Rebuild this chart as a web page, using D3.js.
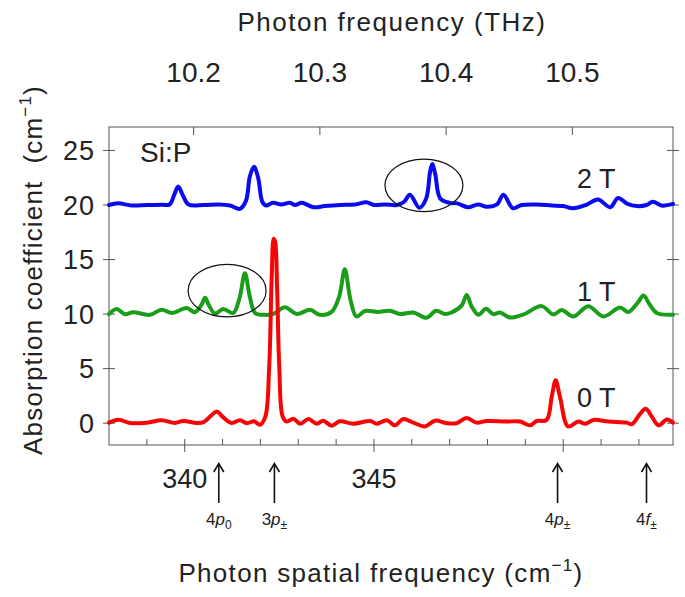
<!DOCTYPE html>
<html><head><meta charset="utf-8">
<script src="https://cdnjs.cloudflare.com/ajax/libs/d3/7.8.5/d3.min.js"></script>
<style>body{margin:0;background:#fff}svg{display:block}text{font-family:"Liberation Sans",Arial,Helvetica,sans-serif;fill:#222}</style>
</head><body><svg id="c" width="685" height="597"></svg>
<script>
// Data (wavenumber cm^-1, absorption coefficient cm^-1)
const blue2T = [[338,20.0],[338.24,20.15],[338.6,19.95],[339.0,20.0],[339.4,20.02],[339.6,20.05],[339.72,20.9],[339.83,21.7],[339.95,20.9],[340.1,20.05],[340.5,20.0],[340.9,20.05],[341.2,19.95],[341.46,19.65],[341.62,20.4],[341.72,22.6],[341.83,23.5],[341.94,22.5],[342.05,20.3],[342.15,19.95],[342.33,20.2],[342.55,20.05],[342.78,20.2],[342.92,20.0],[343.09,20.2],[343.4,19.8],[343.7,19.9],[344.1,20.0],[344.5,20.05],[344.8,20.25],[345.0,20.0],[345.3,20.05],[345.6,20.0],[345.8,20.3],[345.95,20.95],[346.2,19.75],[346.38,20.6],[346.48,23.0],[346.54,23.75],[346.62,22.8],[346.75,20.6],[347.0,20.2],[347.2,20.15],[347.48,19.8],[347.75,20.05],[347.98,19.85],[348.25,20.05],[348.42,20.95],[348.67,19.7],[348.9,20.0],[349.3,20.05],[349.7,19.95],[350.0,19.9],[350.25,19.7],[350.6,20.0],[350.92,20.5],[351.24,19.8],[351.45,20.65],[351.7,20.1],[351.94,19.9],[352.2,20.0],[352.37,20.3],[352.6,19.95],[352.9,20.1]];
const green1T = [[338,10.0],[338.2,10.47],[338.42,9.99],[338.64,10.17],[339.08,9.93],[339.39,10.4],[339.66,10.1],[340.05,10.56],[340.27,10.17],[340.45,10.9],[340.54,11.5],[340.64,10.8],[340.8,10.05],[341.02,10.47],[341.28,10.1],[341.45,11.5],[341.59,13.75],[341.72,11.6],[341.86,10.1],[342.12,9.93],[342.34,10.02],[342.65,10.63],[342.96,10.0],[343.31,10.4],[343.57,9.93],[343.88,10.2],[344.08,11.6],[344.23,14.1],[344.38,11.3],[344.54,9.78],[344.76,10.28],[345.1,10.2],[345.42,10.3],[345.69,10.0],[346.04,10.15],[346.39,9.66],[346.64,10.3],[346.88,10.0],[347.05,10.15],[347.32,10.8],[347.45,11.75],[347.58,10.7],[347.76,9.93],[347.96,10.5],[348.15,10.0],[348.33,10.15],[348.59,9.69],[348.95,9.97],[349.43,10.73],[349.74,9.97],[349.96,10.37],[350.27,9.78],[350.66,10.73],[351.06,9.78],[351.5,10.6],[351.72,10.2],[351.98,11.1],[352.12,11.7],[352.28,10.9],[352.47,10.1],[352.9,9.95]];
const red0T = [[338,0.05],[338.25,0.32],[338.55,0.02],[339.0,0.05],[339.39,0.27],[339.74,0.02],[339.96,0.2],[340.32,0.02],[340.5,0.1],[340.7,0.7],[340.85,1.08],[341.0,0.6],[341.24,0.02],[341.46,0.27],[341.64,0.0],[341.83,0.17],[341.99,-0.14],[342.13,0.6],[342.23,5],[342.3,13.5],[342.35,16.9],[342.39,16.6],[342.44,12.5],[342.5,5],[342.59,0.6],[342.7,0.15],[342.87,0.41],[343.05,-0.05],[343.27,0.38],[343.49,-0.05],[343.66,0.23],[343.88,-0.23],[344.1,0.17],[344.45,-0.05],[344.9,0.2],[345.07,-0.05],[345.34,0.27],[345.56,-0.2],[345.77,0.38],[346.04,0.05],[346.35,-0.3],[346.61,0.23],[346.92,0.0],[347.18,0.0],[347.45,0.48],[347.71,0.05],[347.98,0.2],[348.5,0.15],[348.86,0.15],[349.12,-0.2],[349.3,0.2],[349.56,0.3],[349.7,2.5],[349.8,3.93],[349.92,2.3],[350.13,-0.3],[350.4,0.15],[350.58,-0.05],[350.8,0.3],[351.2,0.15],[351.68,0.05],[351.81,-0.1],[352.02,0.8],[352.18,1.33],[352.34,0.6],[352.52,-0.2],[352.74,0.33],[352.9,0.05]];
const seriesColors = ["#0b0bf0", "#1a9e1a", "#f50505"];
const seriesLabels = [{t:"2 T", x:350.87, y:21.56}, {t:"1 T", x:350.87, y:11.23}, {t:"0 T", x:350.87, y:1.51}];
const bottomTicks = [340, 345];
const bottomMinor = [339,340,341,342,343,344,345,346,347,348,349,350,351,352];
const topTicksTHz = [10.2, 10.3, 10.4, 10.5];
const yTicks = [0, 5, 10, 15, 20, 25];
const lines = [
  {name:"4p", sub:"0", x:340.9},
  {name:"3p", sub:"±", x:342.37},
  {name:"4p", sub:"±", x:349.85},
  {name:"4f", sub:"±", x:352.2}
];
const ellipses = [{cx:346.32, cy:21.8, rx:1.03, ry:2.4}, {cx:341.12, cy:12.15, rx:1.03, ry:2.4}];

const svg = d3.select("#c");
const L=109, R=673, T=127, B=445;
const x = d3.scaleLinear().domain([338, 352.9]).range([L, R]);
const y = d3.scaleLinear().domain([-2, 27.15]).range([B, T]);
const cmPerTHz = 1e12/2.99792458e10;

// frame
svg.append("rect").attr("x",L).attr("y",T).attr("width",R-L).attr("height",B-T)
  .attr("fill","none").attr("stroke","#555").attr("stroke-width",1);

// y ticks both sides
yTicks.forEach(v=>{
  const yy=y(v);
  svg.append("line").attr("x1",L-6).attr("x2",L+6).attr("y1",yy).attr("y2",yy).attr("stroke","#555");
  svg.append("line").attr("x1",R-6).attr("x2",R+6).attr("y1",yy).attr("y2",yy).attr("stroke","#555");
  svg.append("text").attr("x",95).attr("y",yy+9.5).attr("text-anchor","end").attr("font-size",27).attr("letter-spacing",1).text(v);
});
// bottom ticks
bottomMinor.forEach(v=>{
  const major = v%5===0;
  svg.append("line").attr("x1",x(v)).attr("x2",x(v)).attr("y1",B-6).attr("y2",major?B+7:B).attr("stroke","#555");
});
bottomTicks.forEach(v=>{
  svg.append("text").attr("x",x(v)).attr("y",488).attr("text-anchor","middle").attr("font-size",27).text(v);
});
// top THz ticks
topTicksTHz.forEach(v=>{
  const xx=x(v*cmPerTHz);
  svg.append("line").attr("x1",xx).attr("x2",xx).attr("y1",T).attr("y2",T+8).attr("stroke","#555");
  svg.append("text").attr("x",xx).attr("y",82).attr("text-anchor","middle").attr("font-size",28).text(v.toFixed(1));
});

// curves
const line = d3.line().x(d=>x(d[0])).y(d=>y(d[1])).curve(d3.curveCatmullRom.alpha(0.5));
const g = svg.append("g");
[blue2T, green1T, red0T].forEach((s,i)=>{
  g.append("path").attr("d",line(s)).attr("fill","none").attr("stroke",seriesColors[i])
   .attr("stroke-width",4).attr("stroke-linejoin","round").attr("stroke-linecap","round");
});

// ellipses
ellipses.forEach(e=>{
  svg.append("ellipse").attr("cx",x(e.cx)).attr("cy",y(e.cy))
    .attr("rx",x(e.cx+e.rx)-x(e.cx)).attr("ry",y(e.cy-e.ry)-y(e.cy))
    .attr("fill","none").attr("stroke","#111").attr("stroke-width",1.2);
});

// labels
svg.append("text").attr("x",140).attr("y",162).attr("font-size",28).text("Si:P");
seriesLabels.forEach(l=>{
  svg.append("text").attr("x",x(l.x)).attr("y",y(l.y)).attr("font-size",27).attr("text-anchor","middle").text(l.t);
});

// arrows and line labels
lines.forEach(l=>{
  const xx=x(l.x);
  svg.append("line").attr("x1",xx).attr("x2",xx).attr("y1",503).attr("y2",464).attr("stroke","#111").attr("stroke-width",1.6);
  svg.append("path").attr("d",`M${xx-5},${472}L${xx},${463.5}L${xx+5},${472}`).attr("fill","none").attr("stroke","#111").attr("stroke-width",1.6);
  const t = svg.append("text").attr("x",xx).attr("y",525).attr("text-anchor","middle").attr("font-size",17);
  t.append("tspan").text(l.name[0]);
  t.append("tspan").attr("font-style","italic").text(l.name.slice(1));
  t.append("tspan").attr("font-size",12).attr("dy",4).text(l.sub);
});

// axis titles
svg.append("text").attr("x",392).attr("y",31).attr("text-anchor","middle").attr("font-size",26).attr("letter-spacing",1.5).text("Photon frequency (THz)");
const bt = svg.append("text").attr("x",381).attr("y",582).attr("text-anchor","middle").attr("font-size",26).attr("letter-spacing",1.3);
bt.append("tspan").text("Photon spatial frequency (cm");
bt.append("tspan").attr("font-size",17).attr("dy",-11).text("−1");
bt.append("tspan").attr("dy",11).text(")");
const yt = svg.append("text").attr("transform","translate(42,270) rotate(-90)").attr("text-anchor","middle").attr("font-size",26).attr("letter-spacing",1.2);
yt.append("tspan").text("Absorption coefficient\u00a0\u00a0(cm");
yt.append("tspan").attr("font-size",17).attr("dy",-11).text("−1");
yt.append("tspan").attr("dy",11).text(")");
</script></body></html>
